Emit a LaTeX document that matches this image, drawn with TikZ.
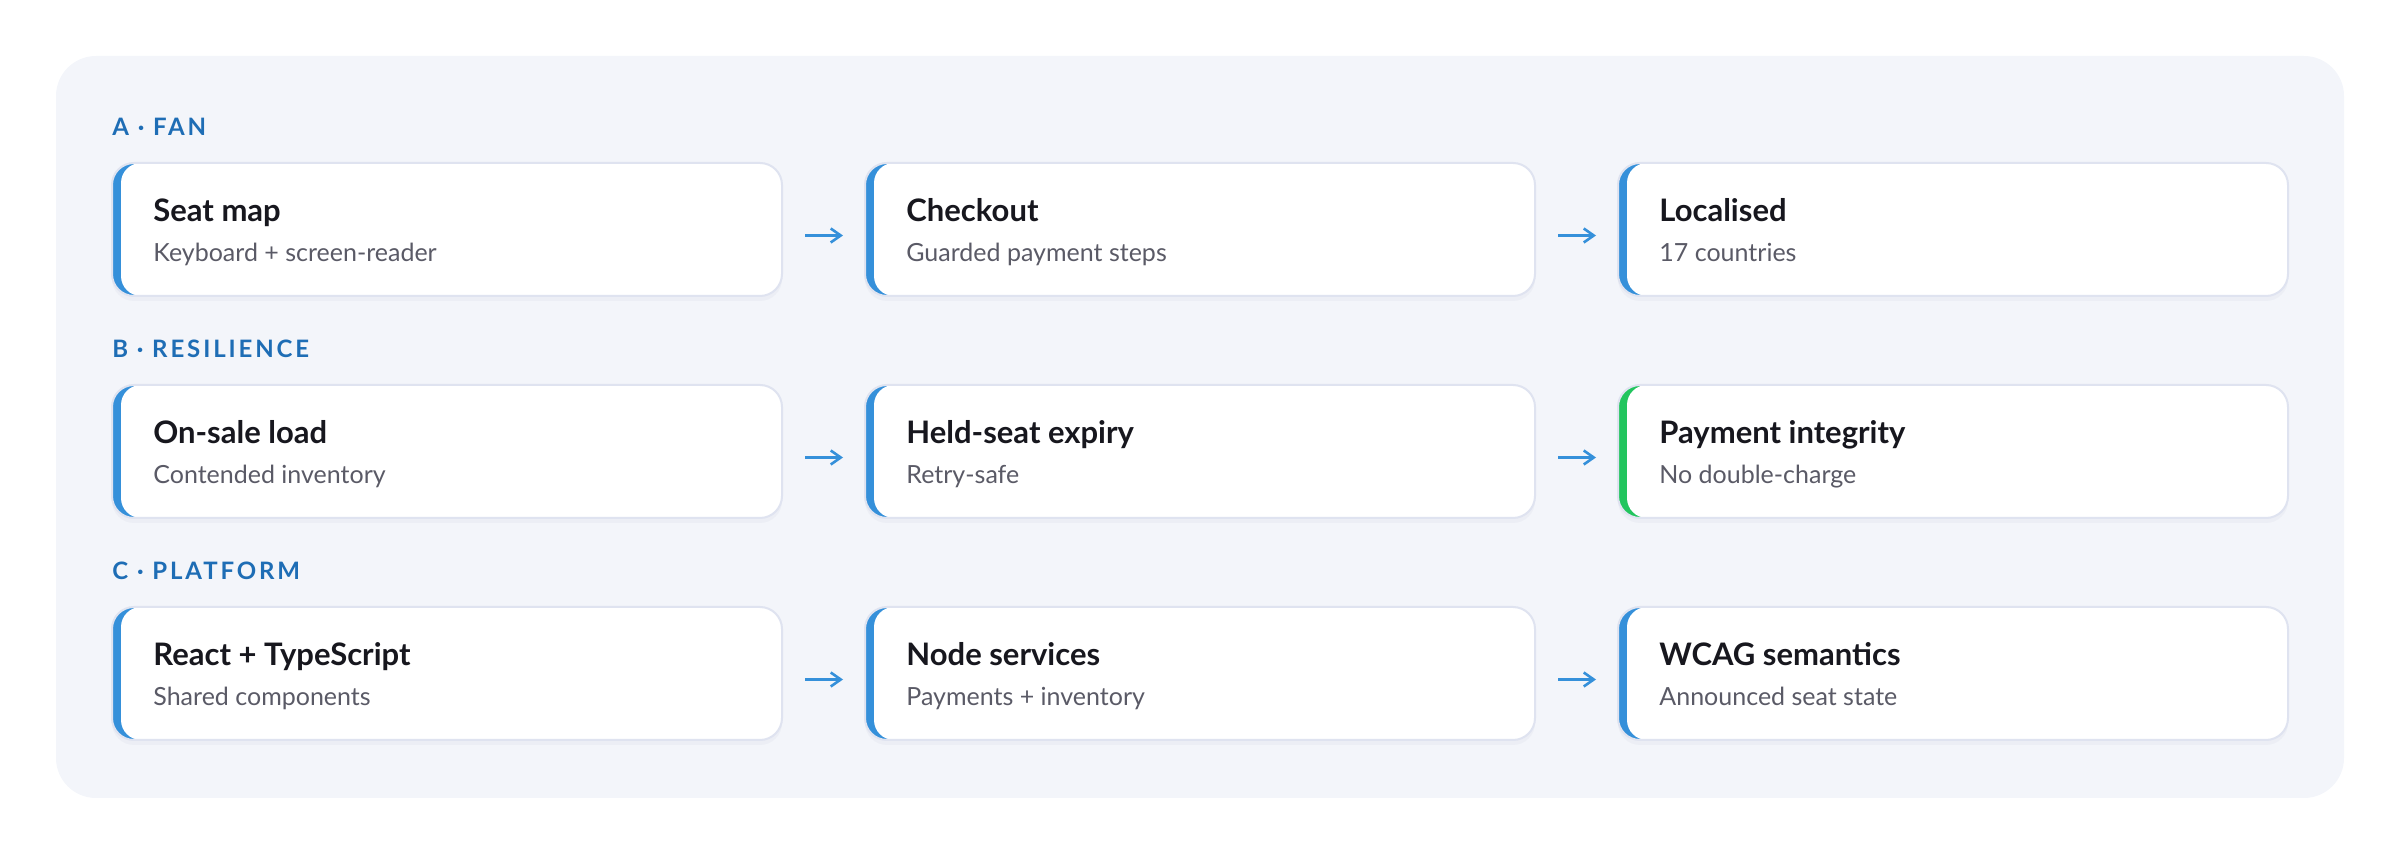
\documentclass[tikz,border=0pt]{standalone}
\usepackage{fontspec}
\setmainfont{Lato}
\newfontfamily\trackfont[LetterSpace=12]{Lato}
\usetikzlibrary{shadows}
\usetikzlibrary{arrows.meta}
\definecolor{panelbg}{HTML}{F3F5FA}
\definecolor{cardline}{HTML}{DFE3F0}
\definecolor{barblue}{HTML}{3590DA}
\definecolor{bargreen}{HTML}{22C55E}
\definecolor{sectionblue}{HTML}{1E6DB5}
\definecolor{titleink}{HTML}{17171E}
\definecolor{subink}{HTML}{5A5A66}
\definecolor{shadowink}{HTML}{3C4A78}

\begin{document}
\begin{tikzpicture}[x=0.5pt,y=0.5pt,yscale=-1,xscale=1,
  card/.style={rectangle, rounded corners=11pt, minimum width=335pt, minimum height=66.5pt, inner sep=0pt, outer sep=0pt,
    draw=cardline, line width=1pt, fill=#1,
    drop shadow={shadow xshift=0pt, shadow yshift=-2.5pt, opacity=0.035, fill=shadowink},
    path picture={\fill[white, rounded corners=10pt] ([xshift=4.5pt]path picture bounding box.south west) rectangle (path picture bounding box.north east);}},
  card/.default=barblue,
  heading/.style={anchor=base west, inner sep=0pt, text=titleink, font=\bfseries\fontsize{15.5}{18}\selectfont},
  subline/.style={anchor=base west, inner sep=0pt, text=subink, font=\fontsize{12.5}{14}\selectfont},
  section/.style={anchor=base west, inner sep=0pt, text=sectionblue, font=\trackfont\bfseries\fontsize{12}{14}\selectfont},
  flow/.style={draw=barblue, line width=1.3pt, -{Straight Barb[length=5pt,width=7pt]}, shorten <=11.5pt, shorten >=11pt}]

\useasboundingbox (0,0) rectangle (2400,854);
%Shape: Panel
\draw [fill=panelbg, draw=none, rounded corners=20pt] (56,56) rectangle (2344,798);

%Shape: Cards, row A
\node [card] (seatmap) at (447,229.5) {};
\node [card] (checkout) at (1200,229.5) {};
\node [card] (localised) at (1953,229.5) {};
%Shape: Cards, row B
\node [card] (onsale) at (447,451.5) {};
\node [card] (heldseat) at (1200,451.5) {};
\node [card=bargreen] (payment) at (1953,451.5) {};
%Shape: Cards, row C
\node [card] (react) at (447,673.5) {};
\node [card] (nodesvc) at (1200,673.5) {};
\node [card] (wcag) at (1953,673.5) {};

% Text Node
\node [section] (secA) at (112,136) {A · FAN};
\node [section] (secB) at (112,358) {B · RESILIENCE};
\node [section] (secC) at (112,580) {C · PLATFORM};

% Text Node
\node [heading] (seatmapT) at (153,222) {Seat map};
\node [subline] (seatmapS) at (153,262) {Keyboard + screen-reader};
\node [heading] (checkoutT) at (906,222) {Checkout};
\node [subline] (checkoutS) at (906,262) {Guarded payment steps};
\node [heading] (localisedT) at (1659,222) {Localised};
\node [subline] (localisedS) at (1659,262) {17 countries};

% Text Node
\node [heading] (onsaleT) at (153,444) {On-sale load};
\node [subline] (onsaleS) at (153,484) {Contended inventory};
\node [heading] (heldseatT) at (906,444) {Held-seat expiry};
\node [subline] (heldseatS) at (906,484) {Retry-safe};
\node [heading] (paymentT) at (1659,444) {Payment integrity};
\node [subline] (paymentS) at (1659,484) {No double-charge};

% Text Node
\node [heading] (reactT) at (153,666) {React + TypeScript};
\node [subline] (reactS) at (153,706) {Shared components};
\node [heading] (nodesvcT) at (906,666) {Node services};
\node [subline] (nodesvcS) at (906,706) {Payments + inventory};
\node [heading] (wcagT) at (1659,666) {WCAG semantics};
\node [subline] (wcagS) at (1659,706) {Announced seat state};

%Straight Lines
\draw [flow] ([yshift=3pt]seatmap.east) -- ([yshift=3pt]checkout.west);
\draw [flow] ([yshift=3pt]checkout.east) -- ([yshift=3pt]localised.west);
\draw [flow] ([yshift=3pt]onsale.east) -- ([yshift=3pt]heldseat.west);
\draw [flow] ([yshift=3pt]heldseat.east) -- ([yshift=3pt]payment.west);
\draw [flow] ([yshift=3pt]react.east) -- ([yshift=3pt]nodesvc.west);
\draw [flow] ([yshift=3pt]nodesvc.east) -- ([yshift=3pt]wcag.west);

\end{tikzpicture}
\end{document}
